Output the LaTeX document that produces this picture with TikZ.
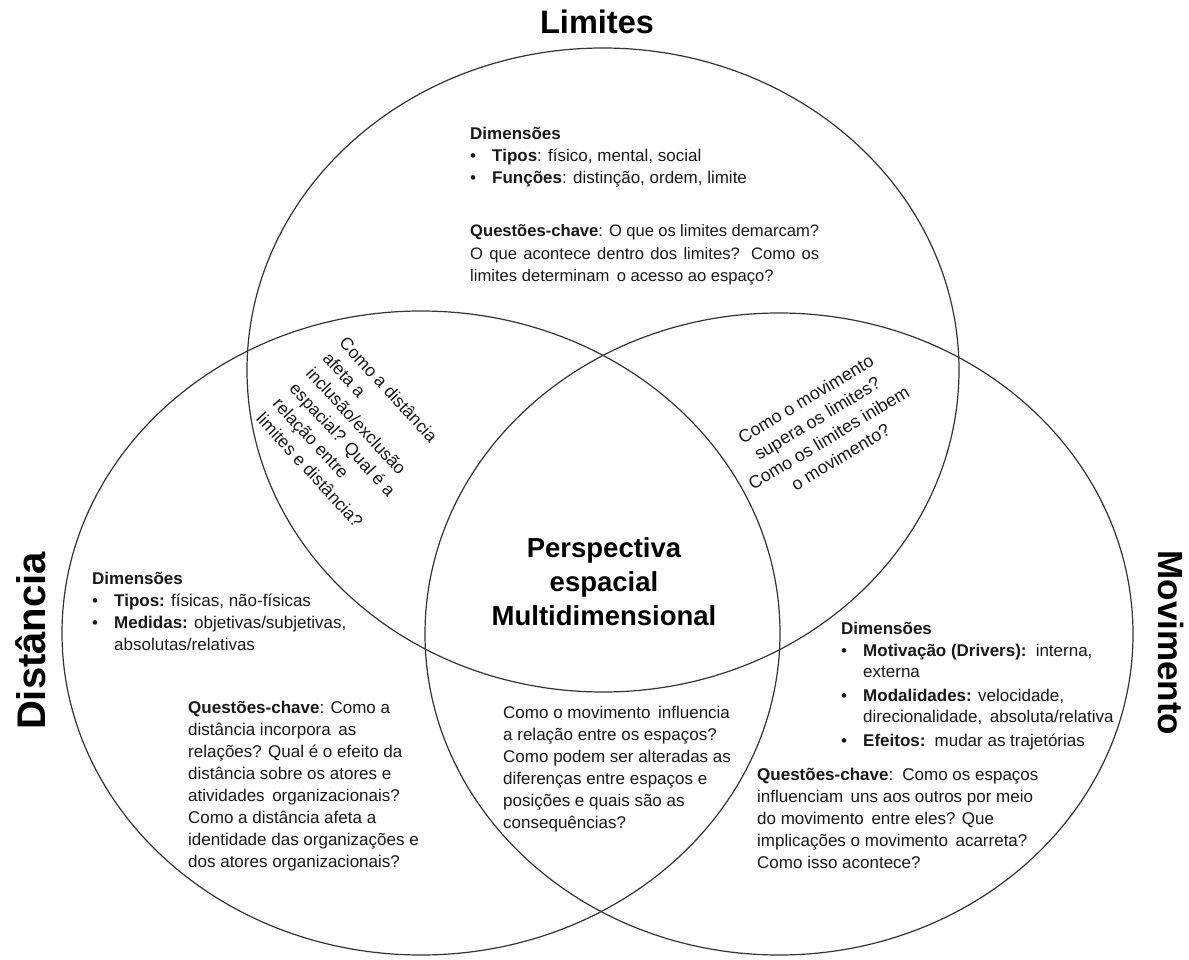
\documentclass[tikz,border=0pt]{standalone}
\usepackage{fontspec}
\setmainfont{Liberation Sans}
\newcommand\bodyfont{\fontsize{17}{22}\selectfont}
\newcommand\bul{\makebox[22pt][l]{\textbullet}}
\newcommand\ind{\hspace*{22pt}}
\tikzset{
  venn/.style={line width=1.2pt, draw=black!80},
  blk/.style={inner sep=0pt, anchor=north west, align=left, font=\bodyfont, text=black!90},
  ttl/.style={font=\fontsize{32.5}{40}\selectfont\bfseries, inner sep=0pt, text=black},
}
\begin{document}
\begin{tikzpicture}[x=1pt,y=-1pt]
\useasboundingbox[fill=white] (0,0) rectangle (1189,960);
% circles
\draw[venn] (603,370) ellipse [x radius=356, y radius=322];
\draw[venn] (421,633) ellipse [x radius=359, y radius=322];
\draw[venn] (779,634) ellipse [x radius=354, y radius=321];
% titles
\node[ttl] (tlim) at (597,22) {Limites};
\node[ttl, font=\fontsize{40}{44}\selectfont\bfseries, rotate=90] (tdist) at (31,641) {Distância};
\node[ttl, font=\fontsize{35}{40}\selectfont\bfseries, rotate=-90] (tmov) at (1171,643) {Movimento};
\node[font=\fontsize{27.5}{34}\selectfont\bfseries, align=center, inner sep=0pt] (center) at (604,582)
  {Perspectiva\\espacial\\Multidimensional};
% top block
\node[blk] (topdim) at (470,124) {\strut\textbf{Dimensões}\\
  \bul\textbf{Tipos}: físico, mental, social\\
  \bul\textbf{Funções}: distinção, ordem, limite};
\node[blk, text width=349pt, align=justify, font=\fontsize{16.6}{22.5}\selectfont] (topq) at (470,221)
  {\hyphenpenalty=10000\strut\textbf{Questões-chave}: O que os limites demarcam?\linebreak
   O que acontece dentro dos limites? Como os\linebreak
   limites determinam\, o acesso ao espaço?};
% left-top intersection
\node[blk, rotate=-47.5, font=\fontsize{17.5}{22.5}\selectfont] (ltq) at (350,333)
  {\strut Como a distância\\afeta a\\inclusão/exclusão\\espacial? Qual é a\\relação entre\\limites e distância?};
% right-top intersection
\node[font=\fontsize{17.8}{22.5}\selectfont, align=center, inner sep=0pt, rotate=31, text=black!90] (rtq) at (823,428)
  {Como o movimento\\supera os limites?\\Como os limites inibem\\o movimento?};
% left blocks
\node[blk] (ldim) at (92,569) {\strut\textbf{Dimensões}\\
  \bul\textbf{Tipos:} físicas, não-físicas\\
  \bul\textbf{Medidas:} objetivas/subjetivas,\\
  \ind absolutas/relativas};
\node[blk] (lq) at (188,698) {\strut\textbf{Questões-chave}: Como a\\
  distância incorpora\, as\\
  relações? Qual é o efeito da\\
  distância sobre os atores e\\
  atividades\, organizacionais?\\
  Como a distância afeta a\\
  identidade das organizações e\\
  dos atores organizacionais?};
% bottom center
\node[blk] (bq) at (503,703) {\strut Como o movimento\, influencia\\
  a relação entre os espaços?\\
  Como podem ser alteradas as\\
  diferenças entre espaços e\\
  posições e quais são as\\
  consequências?};
% right blocks
\node[blk] (rdim) at (841,619) {\strut\textbf{Dimensões}\\
  \bul\textbf{Motivação (Drivers):}\, interna,\\[-1pt]
  \ind externa\\[2pt]
  \bul\textbf{Modalidades:} velocidade,\\[-1pt]
  \ind direcionalidade,\, absoluta/relativa\\[2pt]
  \bul\textbf{Efeitos:}\, mudar as trajetórias};
\node[blk] (rq) at (757,765) {\strut\textbf{Questões-chave}:\, Como os espaços\\
  influenciam\, uns aos outros por meio\\
  do movimento\, entre eles? Que\\
  implicações o movimento\, acarreta?\\
  Como isso acontece?};
\end{tikzpicture}
\end{document}
